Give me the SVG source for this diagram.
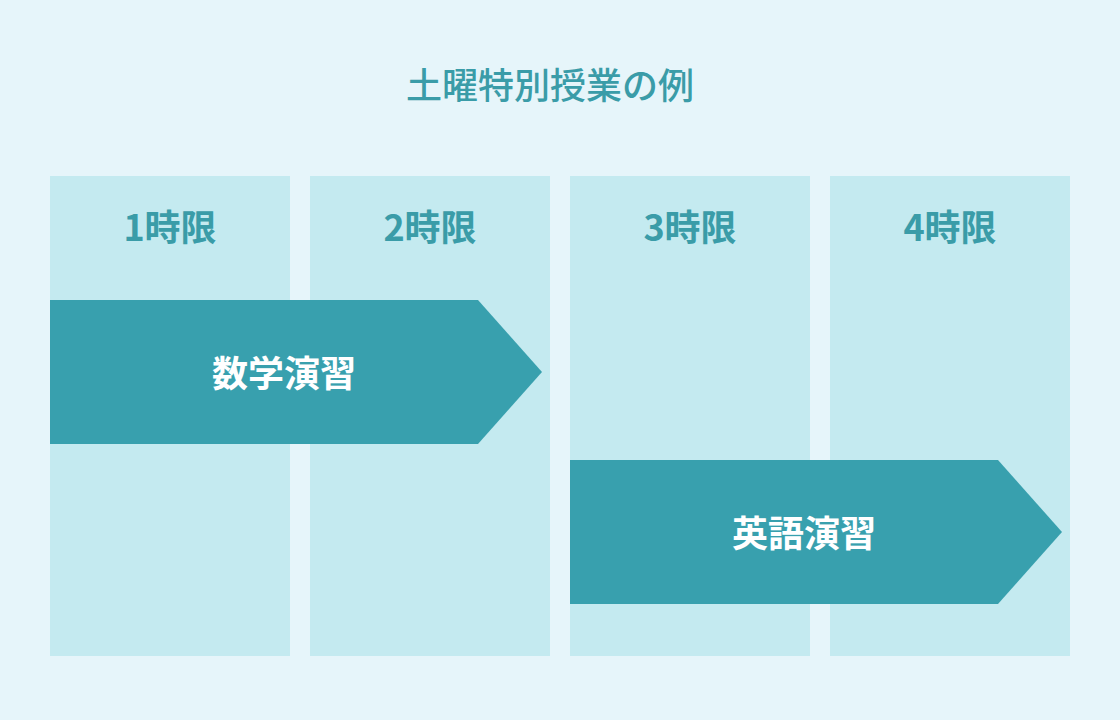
<svg xmlns="http://www.w3.org/2000/svg" width="1120" height="720" viewBox="0 0 1120 720">
<style>
text{font-family:"Noto Sans CJK JP","Noto Sans",sans-serif;text-anchor:middle}
.col{fill:#C4EAF0}
.arr{fill:#38A0AE}
.hd{font-size:36px;font-weight:700;fill:#3A9CA8}
.lb{font-size:36px;font-weight:700;fill:#FFFFFF}
.tt{font-size:36px;font-weight:500;fill:#3A9CA8}
</style>
<rect width="1120" height="720" fill="#E6F5FA"/>
<text class="tt" x="550" y="99">土曜特別授業の例</text>
<g id="col1"><rect class="col" x="50" y="176" width="240" height="480"/><text class="hd" x="170" y="241">1時限</text></g>
<g id="col2"><rect class="col" x="310" y="176" width="240" height="480"/><text class="hd" x="430" y="241">2時限</text></g>
<g id="col3"><rect class="col" x="570" y="176" width="240" height="480"/><text class="hd" x="690" y="241">3時限</text></g>
<g id="col4"><rect class="col" x="830" y="176" width="240" height="480"/><text class="hd" x="950" y="241">4時限</text></g>
<g id="math"><polygon class="arr" points="50,300 478,300 542,372 478,444 50,444"/><text class="lb" x="284" y="387">数学演習</text></g>
<g id="english"><polygon class="arr" points="570,460 998,460 1062,532 998,604 570,604"/><text class="lb" x="804" y="547">英語演習</text></g>
<g id="connectors"></g>
</svg>
